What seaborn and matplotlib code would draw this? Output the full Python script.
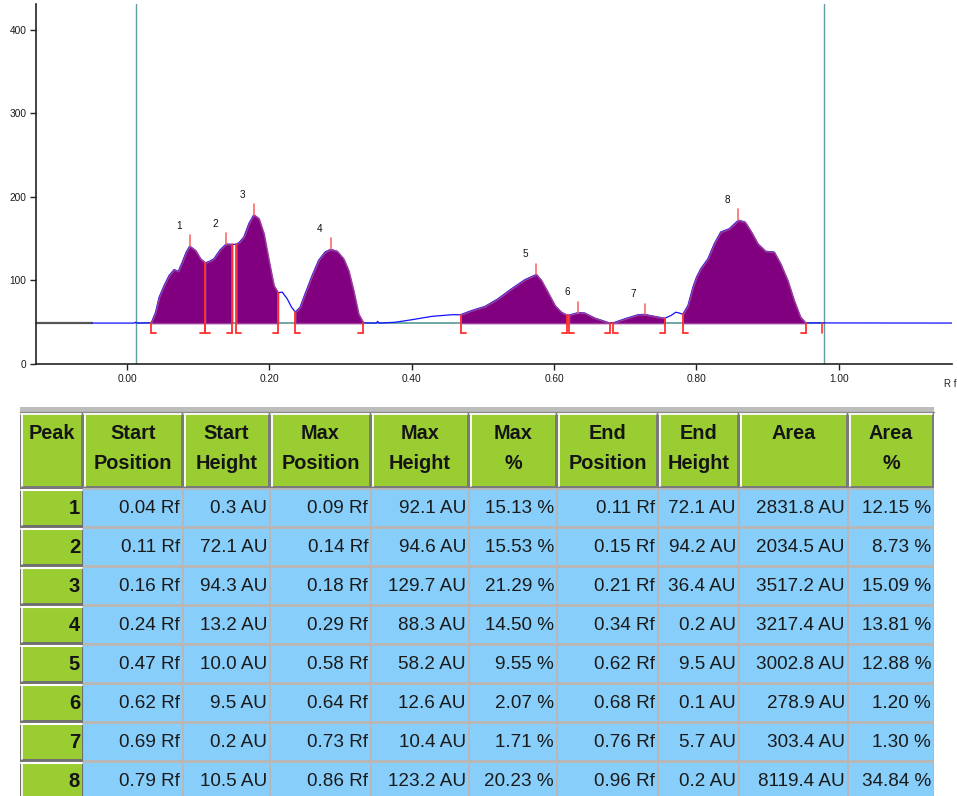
import matplotlib
matplotlib.use('Agg')
import matplotlib.pyplot as plt
from matplotlib.patches import Rectangle
import numpy as np
import pandas as pd
import seaborn as sns

# densitogram trace (Rf, AU)
trace_rf = [-0.05, 0.010, 0.012, 0.014, 0.034,
            0.040, 0.045, 0.052, 0.059, 0.066, 0.072, 0.0775, 0.083, 0.088, 0.096, 0.103,
            0.1097, 0.116, 0.122, 0.131, 0.139, 0.1476, 0.1537, 0.158, 0.164, 0.171, 0.178,
            0.185, 0.192, 0.199, 0.206, 0.212, 0.218, 0.225, 0.231, 0.2364, 0.243, 0.250,
            0.260, 0.269, 0.278, 0.286, 0.295, 0.304, 0.311, 0.318, 0.325, 0.332, 0.350,
            0.352, 0.354, 0.377, 0.400, 0.428, 0.456, 0.4685, 0.484, 0.503, 0.521, 0.540,
            0.559, 0.575, 0.582, 0.591, 0.601, 0.610, 0.618, 0.621, 0.634, 0.643, 0.657,
            0.678, 0.6826, 0.699, 0.718, 0.727, 0.741, 0.7554, 0.764, 0.771, 0.776, 0.7807,
            0.788, 0.795, 0.800, 0.806, 0.816, 0.825, 0.834, 0.846, 0.859, 0.868, 0.877,
            0.886, 0.897, 0.909, 0.918, 0.928, 0.937, 0.946, 0.9535, 1.16]
trace_au = [49, 49, 50, 49, 49.3,
            62, 80, 94, 106, 113, 111, 122, 134, 141.1, 136, 126,
            121.1, 123, 126, 137, 143.6, 143.2, 143.3, 146, 152, 168, 178.7,
            174, 156, 124, 94, 85.4, 86, 78, 68, 62.2, 68, 84,
            106, 124, 134, 137.3, 135, 126, 112, 88, 60, 49.2, 49,
            51, 49, 50, 53, 57, 59, 59, 64, 69, 78, 90,
            101, 107.2, 100, 86, 70, 62, 58.5, 58.5, 61.6, 61, 55,
            49.1, 49.2, 54, 59, 59.4, 57, 54.7, 58, 62, 61, 59.5,
            70, 92, 104, 114, 126, 144, 158, 162, 172.2, 170, 158,
            144, 135, 134, 120, 100, 76, 56, 49.2, 49]

BASELINE = 49.0

# peak table
peak_ids = [1, 2, 3, 4, 5, 6, 7, 8]
start_pos = [0.04, 0.11, 0.16, 0.24, 0.47, 0.62, 0.69, 0.79]
start_height = [0.3, 72.1, 94.3, 13.2, 10.0, 9.5, 0.2, 10.5]
max_pos = [0.09, 0.14, 0.18, 0.29, 0.58, 0.64, 0.73, 0.86]
max_height = [92.1, 94.6, 129.7, 88.3, 58.2, 12.6, 10.4, 123.2]
max_pct = [15.13, 15.53, 21.29, 14.50, 9.55, 2.07, 1.71, 20.23]
end_pos = [0.11, 0.15, 0.21, 0.34, 0.62, 0.68, 0.76, 0.96]
end_height = [72.1, 94.2, 36.4, 0.2, 9.5, 0.1, 5.7, 0.2]
area = [2831.8, 2034.5, 3517.2, 3217.4, 3002.8, 278.9, 303.4, 8119.4]
area_pct = [12.15, 8.73, 15.09, 13.81, 12.88, 1.20, 1.30, 34.84]

# integration limits / apex positions as drawn on the track
bound_start = [0.034, 0.1097, 0.1537, 0.2364, 0.4685, 0.621, 0.6826, 0.7807]
bound_end = [0.1097, 0.1476, 0.212, 0.332, 0.618, 0.678, 0.7554, 0.9535]
apex_rf = [0.088, 0.139, 0.178, 0.286, 0.575, 0.634, 0.727, 0.859]
front_lines = [0.0126, 0.979]
end_marker = [0.977]

header_lines = [('Peak', ''), ('Start', 'Position'), ('Start', 'Height'), ('Max', 'Position'),
                ('Max', 'Height'), ('Max', '%'), ('End', 'Position'), ('End', 'Height'),
                ('Area', ''), ('Area', '%')]


def draw_densitogram(ax):
    df = pd.DataFrame({'Rf': trace_rf, 'AU': trace_au})
    x = df['Rf'].to_numpy()
    y = df['AU'].to_numpy()

    ax.plot([-0.128, -0.05], [BASELINE, BASELINE], color='#555555', lw=1.6, zorder=2)
    ax.plot(front_lines, [BASELINE, BASELINE], color='#6FA8A4', lw=1.4, zorder=2)
    sns.lineplot(data=df, x='Rf', y='AU', ax=ax, color='#1010FF', lw=0.9,
                 estimator=None, sort=False, zorder=2.5)
    for fx in front_lines:
        ax.axvline(fx, color='#5F9EA0', lw=1.0, zorder=1)

    for s, e in zip(bound_start, bound_end):
        m = (x >= s - 1e-9) & (x <= e + 1e-9)
        ax.fill_between(x[m], BASELINE, y[m], color='#800080', lw=1.1,
                        edgecolor='#9A3C9A', zorder=3)

    low = 36.6
    foot = 0.007
    red = '#FF3030'
    for s, e in zip(bound_start, bound_end):
        for pos, sign in ((s, 1), (e, -1)):
            top = np.interp(pos, x, y)
            ax.plot([pos, pos], [low, top], color=red, lw=1.3, zorder=4)
            ax.plot([pos, pos + sign * foot], [low, low], color=red, lw=1.3, zorder=4)
    for pos in end_marker:
        ax.plot([pos, pos], [low, BASELINE], color=red, lw=1.2, zorder=4)

    for pid, ax_rf, mh in zip(peak_ids, apex_rf, max_height):
        top = BASELINE + mh
        ax.plot([ax_rf, ax_rf], [top, top + 13], color='#FF6A6A', lw=1.2, zorder=4)
        ax.annotate(str(pid), (ax_rf, top), xytext=(-8, 14.5), textcoords='offset points',
                    ha='center', va='center', fontsize=7.2, color='#111111')

    ax.set_xlim(-0.128, 1.159)
    ax.set_ylim(0, 431)
    ax.set_xticks([0.0, 0.2, 0.4, 0.6, 0.8, 1.0])
    ax.set_xticklabels(['0.00', '0.20', '0.40', '0.60', '0.80', '1.00'])
    ax.set_yticks([0, 100, 200, 300, 400])
    ax.set_xlabel('')
    ax.set_ylabel('')
    ax.tick_params(axis='both', direction='out', length=4.5, width=1, color='#222222',
                   labelsize=7.3, labelcolor='#1A1A1A', pad=2.5, bottom=True, left=True)
    for side in ('top', 'right'):
        ax.spines[side].set_visible(False)
    for side in ('left', 'bottom'):
        ax.spines[side].set_color('#222222')
        ax.spines[side].set_linewidth(1.2)
    ax.text(0.998, -0.055, 'R f', transform=ax.transAxes, ha='center', va='center',
            fontsize=7, color='#222222')


def draw_table(ax):
    col_edges = [20, 83, 183, 270, 371, 469, 557, 658, 739, 848, 934]
    head_top, head_bot = 413, 488
    row_h = 39

    ax.add_patch(Rectangle((20, 407), 914, 5, color='#BDBDBD', lw=0))
    ax.plot([20, 934], [412, 412], color='#8C8C8C', lw=1)

    # header
    ax.add_patch(Rectangle((20, head_top), 914, head_bot - head_top, color='#7A7A7A', lw=0))
    for i, (l1, l2) in enumerate(header_lines):
        x0, x1 = col_edges[i], col_edges[i + 1]
        ax.add_patch(Rectangle((x0 + 1, head_top + 1), x1 - x0 - 3, head_bot - head_top - 3,
                               color='#9ACD32', lw=0))
        ax.plot([x0 + 1.5, x0 + 1.5], [head_top + 1, head_bot - 2], color='white', lw=1.3)
        ax.plot([x0 + 1, x1 - 2], [head_top + 1.5, head_top + 1.5], color='white', lw=1.3)
        cx = (x0 + x1) / 2
        ax.text(cx, 434, l1, ha='center', va='center', fontsize=14.3, fontweight='bold',
                color='#151515')
        if l2:
            ax.text(cx, 464, l2, ha='center', va='center', fontsize=14.3, fontweight='bold',
                    color='#151515')

    # body
    ax.add_patch(Rectangle((83, head_bot), 851, 796 - head_bot, color='#B7B7B7', lw=0))
    ax.add_patch(Rectangle((20, head_bot), 63, 796 - head_bot, color='#707070', lw=0))
    rows = list(zip(start_pos, start_height, max_pos, max_height, max_pct,
                    end_pos, end_height, area, area_pct))
    fmts = ['{:.2f} Rf', '{:.1f} AU', '{:.2f} Rf', '{:.1f} AU', '{:.2f} %',
            '{:.2f} Rf', '{:.1f} AU', '{:.1f} AU', '{:.2f} %']
    for r, (pid, vals) in enumerate(zip(peak_ids, rows)):
        top = head_bot + 1 + r * row_h
        # peak column with bevel
        ax.add_patch(Rectangle((21, top + 1), 61, row_h - 4, color='#9ACD32', lw=0))
        ax.plot([21, 82], [top + 1.5, top + 1.5], color='white', lw=1.5)
        ax.plot([21.5, 21.5], [top + 1, top + row_h - 3], color='white', lw=1.2)
        ax.text(80, top + row_h / 2, str(pid), ha='right', va='center', fontsize=14.5,
                fontweight='bold', color='#151515')
        for c, (v, f) in enumerate(zip(vals, fmts)):
            x0, x1 = col_edges[c + 1], col_edges[c + 2]
            ax.add_patch(Rectangle((x0 + 1, top + 1), x1 - x0 - 2, row_h - 3,
                                   color='#87CEFA', lw=0))
            ax.text(x1 - 3, top + row_h / 2, f.format(v), ha='right', va='center',
                    fontsize=13.6, color='#1A1A1A')

    ax.set_xlim(0, 957)
    ax.set_ylim(796, 400)
    ax.axis('off')


def main():
    sns.set_theme(style='white')
    plt.rcParams['font.family'] = ['Liberation Sans', 'DejaVu Sans']

    fig = plt.figure(figsize=(9.57, 7.96), dpi=100)
    ax = fig.add_axes([36 / 957, 1 - 364 / 796, 916 / 957, 360 / 796])
    draw_densitogram(ax)

    tax = fig.add_axes([0, 0, 1, 396 / 796])
    draw_table(tax)

    fig.savefig('out.png', dpi=100)


if __name__ == '__main__':
    main()
